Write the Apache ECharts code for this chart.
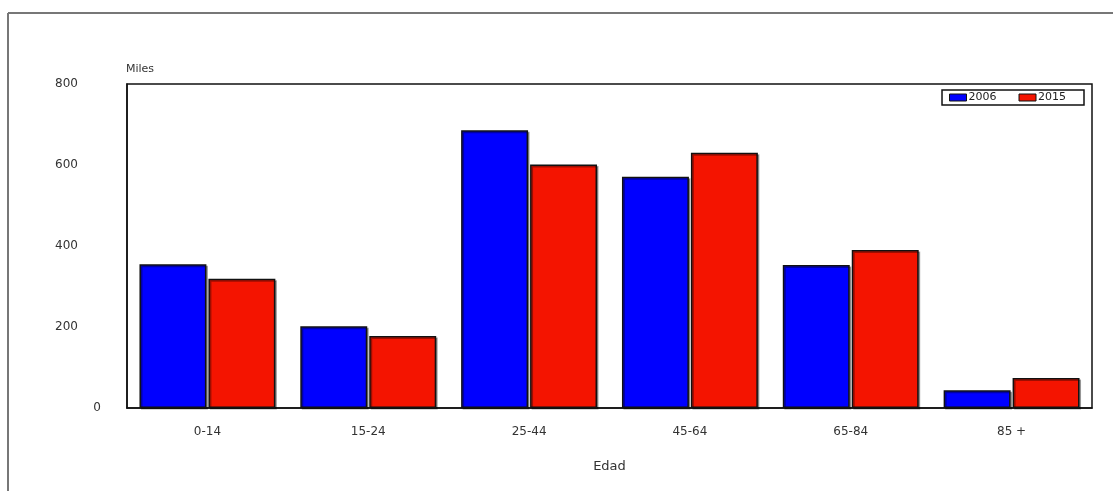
<!DOCTYPE html>
<html><head><meta charset="utf-8">
<script src="https://cdn.jsdelivr.net/npm/echarts@6/dist/echarts.min.js"></script>
<style>html,body{margin:0;padding:0;background:#fff}#c{width:1118px;height:491px}</style>
</head><body><div id="c"></div>
<script>
const categories = ['0-14', '15-24', '25-44', '45-64', '65-84', '85 +'];
const values2006 = [355, 202, 686, 571, 353, 44];
const values2015 = [319, 178, 601, 630, 390, 74];
const yTicks = [0, 200, 400, 600, 800];

const chart = echarts.init(document.getElementById('c'), null, {renderer: 'canvas'});
const font = 'DejaVu Sans';
const barStyle = (c) => ({
  color: c, borderColor: '#111', borderWidth: 1.5,
  shadowColor: 'rgba(0,0,0,0.35)', shadowOffsetX: 1.5, shadowOffsetY: 1.5, shadowBlur: 0
});
const yBase = {
  type: 'value', min: 0, max: 800, interval: 200, position: 'left',
  axisTick: {show: false}, splitLine: {show: false}
};
chart.setOption({
  animation: false,
  backgroundColor: '#fff',
  textStyle: {fontFamily: font},
  grid: {left: 127, right: 26, top: 84, bottom: 83, show: true, borderColor: '#111', borderWidth: 1.5, backgroundColor: 'transparent'},
  legend: {
    right: 34, top: 90, orient: 'horizontal',
    data: ['2006', '2015'], icon: 'rect', itemWidth: 17, itemHeight: 7, itemGap: 22,
    borderColor: '#111', borderWidth: 1.5, padding: [2, 18, 2, 7], borderRadius: 0,
    textStyle: {fontFamily: font, fontSize: 11, color: '#222', padding: [0, 0, 0, -3]},
    itemStyle: {borderColor: '#111', borderWidth: 1}
  },
  xAxis: {
    type: 'category', data: categories,
    name: 'Edad', nameLocation: 'middle', nameGap: 52,
    nameTextStyle: {fontFamily: font, fontSize: 13, color: '#333'},
    axisLine: {lineStyle: {color: '#111', width: 1.5}},
    axisTick: {show: false},
    axisLabel: {fontFamily: font, fontSize: 12, color: '#333', margin: 18}
  },
  yAxis: [
    Object.assign({}, yBase, {
      name: 'Miles', nameLocation: 'end', nameGap: 9,
      nameTextStyle: {fontFamily: font, fontSize: 11, color: '#333', align: 'left', padding: [0, 0, 0, -1]},
      axisLine: {show: true, lineStyle: {color: '#111', width: 1.5}},
      axisLabel: {fontFamily: font, fontSize: 12, color: '#333', margin: 49,
        formatter: (v) => (v !== 0 && yTicks.includes(v)) ? String(v) : ''}
    }),
    Object.assign({}, yBase, {
      axisLine: {show: false},
      axisLabel: {fontFamily: font, fontSize: 12, color: '#333', margin: 26,
        formatter: (v) => v === 0 ? '0' : ''}
    })
  ],
  series: [
    {name: '2006', type: 'bar', data: values2006, barGap: '3%', barCategoryGap: '15.5%', itemStyle: barStyle('#0000ff')},
    {name: '2015', type: 'bar', data: values2015, itemStyle: barStyle('#f41400')}
  ],
  graphic: [
    {type: 'line', shape: {x1: 8, y1: 13, x2: 8, y2: 491}, style: {stroke: '#777', lineWidth: 2}},
    {type: 'line', shape: {x1: 8, y1: 13, x2: 1113, y2: 13}, style: {stroke: '#777', lineWidth: 2}}
  ]
});
</script></body></html>
